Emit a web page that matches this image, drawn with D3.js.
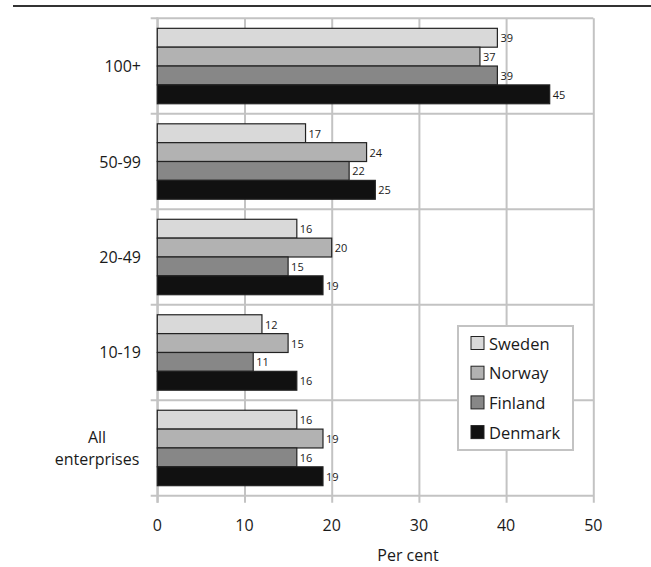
<!DOCTYPE html>
<html>
<head>
<meta charset="utf-8">
<script src="https://cdn.jsdelivr.net/npm/d3@7"></script>
<style>
  html, body { margin: 0; padding: 0; background: #ffffff; }
  svg { display: block; font-family: "Open Sans", "Noto Sans", sans-serif; }
</style>
</head>
<body>
<svg id="chart" width="651" height="567"></svg>
<script>
// Enterprise size classes (top to bottom) and countries
const categories = ["100+", "50-99", "20-49", "10-19", "All enterprises"];
const countries = ["Sweden", "Norway", "Finland", "Denmark"];

// Share of enterprises, per cent, one array per country (same order as categories)
const sweden  = [39, 17, 16, 12, 16];
const norway  = [37, 24, 20, 15, 19];
const finland = [39, 22, 15, 11, 16];
const denmark = [45, 25, 19, 16, 19];

const xTicks = [0, 10, 20, 30, 40, 50];
const xTitle = "Per cent";

const seriesValues = { Sweden: sweden, Norway: norway, Finland: finland, Denmark: denmark };
const colors = { Sweden: "#d9d9d9", Norway: "#b2b2b2", Finland: "#878787", Denmark: "#111111" };

const svg = d3.select("#chart");
const grid = "#c3c3c3";

const plot = { left: 157.3, right: 593.3, top: 18.3, bottom: 495.7 };

const x = d3.scaleLinear().domain([0, 50]).range([plot.left, plot.right]);
const y0 = d3.scaleBand().domain(categories).range([plot.top, plot.bottom])
  .paddingInner(0.21).paddingOuter(0.105);
const y1 = d3.scaleBand().domain(countries).range([0, y0.bandwidth()]);

// Rule across the top of the figure
svg.append("line")
  .attr("x1", 13).attr("x2", 651).attr("y1", 6).attr("y2", 6)
  .attr("stroke", "#333").attr("stroke-width", 2);

// Vertical gridlines with ticks below the plot
const xAxis = d3.axisBottom(x).tickValues(xTicks).tickSizeInner(-(plot.bottom - plot.top)).tickSizeOuter(0).tickFormat("");
const gx = svg.append("g").attr("transform", `translate(0,${plot.bottom})`).call(xAxis);
gx.select(".domain").remove();
gx.selectAll(".tick line").attr("stroke", grid).attr("stroke-width", 2).attr("y2", -(plot.bottom - plot.top)).attr("y1", 7);

// Horizontal separators between categories, extending left as ticks
const bounds = categories.map(c => y0(c) - y0.step() * y0.paddingInner() / 2);
bounds.push(plot.bottom);
bounds[0] = plot.top;
svg.append("g").selectAll("line").data(bounds).join("line")
  .attr("x1", 150.7).attr("x2", plot.right)
  .attr("y1", d => d).attr("y2", d => d)
  .attr("stroke", grid).attr("stroke-width", 2);

// Value axis baseline
svg.append("line")
  .attr("x1", x(0)).attr("x2", x(0)).attr("y1", plot.top - 1).attr("y2", plot.bottom + 7)
  .attr("stroke", grid).attr("stroke-width", 2);

// X tick labels
svg.append("g").selectAll("text").data(xTicks).join("text")
  .attr("x", d => x(d)).attr("y", 525)
  .attr("text-anchor", "middle").attr("dominant-baseline", "central")
  .attr("font-size", 16).attr("fill", "#1a1a1a")
  .text(d => d);

svg.append("text")
  .attr("x", 408).attr("y", 555)
  .attr("text-anchor", "middle").attr("dominant-baseline", "central")
  .attr("font-size", 16).attr("fill", "#1a1a1a")
  .text(xTitle);

// Category labels
const catG = svg.append("g");
categories.forEach(c => {
  const cy = y0(c) + y0.bandwidth() / 2;
  const words = c.split(" ");
  if (words.length === 1) {
    catG.append("text").attr("x", 141).attr("y", cy)
      .attr("text-anchor", "end").attr("dominant-baseline", "central")
      .attr("font-size", 16).attr("fill", "#1a1a1a").text(c);
  } else {
    const t = catG.append("text").attr("x", 97).attr("y", cy)
      .attr("text-anchor", "middle").attr("font-size", 16).attr("fill", "#1a1a1a");
    words.forEach((w, i) => {
      t.append("tspan").attr("x", 97).attr("y", cy - 11 + i * 22)
        .attr("dominant-baseline", "central").text(w);
    });
  }
});

// Bars
const rows = [];
categories.forEach((c, i) => countries.forEach(k => rows.push({ cat: c, country: k, value: seriesValues[k][i] })));

svg.append("g").selectAll("rect").data(rows).join("rect")
  .attr("x", x(0))
  .attr("y", d => y0(d.cat) + y1(d.country))
  .attr("width", d => x(d.value) - x(0))
  .attr("height", y1.bandwidth())
  .attr("fill", d => colors[d.country])
  .attr("stroke", "#222").attr("stroke-width", 1.2);

// Value labels
svg.append("g").selectAll("text").data(rows).join("text")
  .attr("x", d => x(d.value) + 3)
  .attr("y", d => y0(d.cat) + y1(d.country) + y1.bandwidth() / 2)
  .attr("dominant-baseline", "central")
  .attr("font-size", 11).attr("fill", "#1a1a1a")
  .text(d => d.value);

// Legend
const lg = svg.append("g");
lg.append("rect").attr("x", 458).attr("y", 326).attr("width", 115).attr("height", 124)
  .attr("fill", "#fff").attr("stroke", grid).attr("stroke-width", 2);
countries.forEach((k, i) => {
  const cy = 343 + i * 29.7;
  lg.append("rect").attr("x", 471).attr("y", cy - 6.5).attr("width", 13).attr("height", 13)
    .attr("fill", colors[k]).attr("stroke", "#222").attr("stroke-width", 1);
  lg.append("text").attr("x", 489).attr("y", cy)
    .attr("dominant-baseline", "central").attr("font-size", 16.5).attr("fill", "#1a1a1a").text(k);
});
</script>
</body>
</html>
